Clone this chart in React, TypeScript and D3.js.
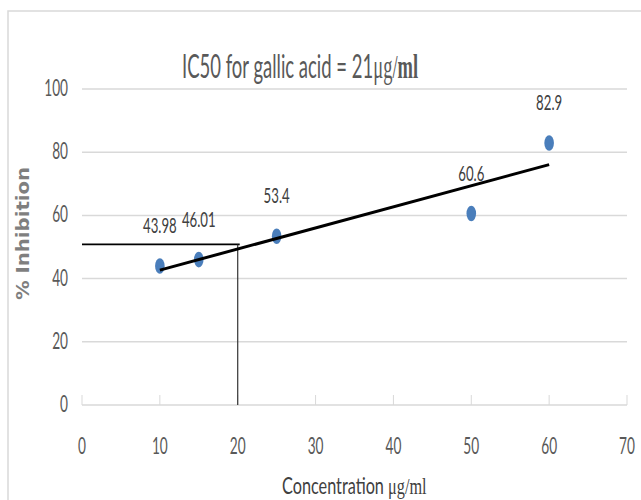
import React, { useLayoutEffect, useRef, useState } from "react";
import * as d3 from "d3";

const concentrations = [10, 15, 25, 50, 60];
const inhibition = [43.98, 46.01, 53.4, 60.6, 82.9];
const pointLabels = ["43.98", "46.01", "53.4", "60.6", "82.9"];
const xTicks = [0, 10, 20, 30, 40, 50, 60, 70];
const yTicks = [0, 20, 40, 60, 80, 100];
const ic50X = 20;
const ic50Y = 50.8;

const W = 641;
const H = 500;
const SANS = "Lato, 'Liberation Sans', sans-serif";
const SERIF = "'Liberation Serif', 'DejaVu Serif', serif";
const SX = 0.57;

function regression(xs: number[], ys: number[]) {
  const mx = d3.mean(xs) as number;
  const my = d3.mean(ys) as number;
  let sxy = 0;
  let sxx = 0;
  xs.forEach((x, i) => {
    sxy += (x - mx) * (ys[i] - my);
    sxx += (x - mx) * (x - mx);
  });
  const slope = sxy / sxx;
  return { slope, intercept: my - slope * mx };
}

function FitText(props: { x: number; y: number; width: number; rotate?: boolean; children: React.ReactNode; [k: string]: any }) {
  const { x, y, width, rotate, children, ...rest } = props;
  const ref = useRef<SVGTextElement>(null);
  const [s, setS] = useState(0.57);
  useLayoutEffect(() => {
    if (ref.current) {
      const w = ref.current.getBBox().width;
      if (w > 0) setS(width / w);
    }
  }, [width]);
  const tr = rotate
    ? `translate(${x},${y}) rotate(-90) scale(${s},1)`
    : `translate(${x},${y}) scale(${s},1)`;
  return (
    <g transform={tr}>
      <text ref={ref} x={0} y={0} {...rest}>{children}</text>
    </g>
  );
}

export default function App() {
  const x = d3.scaleLinear().domain([0, 70]).range([82, 627]);
  const y = d3.scaleLinear().domain([0, 100]).range([405, 89]);
  const { slope, intercept } = regression(concentrations, inhibition);
  const xMin = d3.min(concentrations) as number;
  const xMax = d3.max(concentrations) as number;
  const trend = d3.line<number>()
    .x((d) => x(d))
    .y((d) => y(intercept + slope * d))([xMin, xMax]);

  return (
    <svg width={W} height={H} style={{ position: "absolute", left: 0, top: 0, background: "#fff" }}>
      <rect x={8} y={11} width={W} height={H} fill="#fff" stroke="#d9d9d9" strokeWidth={1.5} />
      {yTicks.map((t) => (
        <line key={"g" + t} x1={x(0)} x2={x(70)} y1={y(t)} y2={y(t)} stroke="#d9d9d9" strokeWidth={1.5} />
      ))}
      {xTicks.map((t) => (
        <line key={"xt" + t} x1={x(t)} x2={x(t)} y1={y(0)} y2={y(0) - 10} stroke="#d9d9d9" strokeWidth={1} />
      ))}
      {yTicks.map((t) => (
        <g key={"yl" + t} transform={`translate(68,${y(t) + 7}) scale(${SX},1)`}>
          <text textAnchor="end" fontFamily={SANS} fontSize={24} fill="#595959">{t}</text>
        </g>
      ))}
      {xTicks.map((t) => (
        <g key={"xl" + t} transform={`translate(${x(t)},454) scale(${SX},1)`}>
          <text textAnchor="middle" fontFamily={SANS} fontSize={24} fill="#595959">{t}</text>
        </g>
      ))}
      <line x1={x(0)} x2={x(ic50X) + 2} y1={y(ic50Y)} y2={y(ic50Y)} stroke="#000" strokeWidth={1.8} />
      <line x1={x(ic50X)} x2={x(ic50X)} y1={y(ic50Y)} y2={y(0)} stroke="#333" strokeWidth={1.2} />
      {concentrations.map((c, i) => (
        <ellipse key={"p" + i} cx={x(c)} cy={y(inhibition[i])} rx={4.8} ry={7.8} fill="#4a7ebb" />
      ))}
      <path d={trend || ""} fill="none" stroke="#000" strokeWidth={3} />
      {concentrations.map((c, i) => (
        <g key={"dl" + i} transform={`translate(${x(c)},${y(inhibition[i]) - 33}) scale(0.6,1)`}>
          <text textAnchor="middle" fontFamily={SANS} fontSize={22} fill="#404040">{pointLabels[i]}</text>
        </g>
      ))}
      <FitText x={182} y={78} width={236} fontFamily={SANS} fontSize={33} fill="#595959">
        IC50 for gallic acid = 21<tspan fontFamily={SERIF}>μg/</tspan><tspan fontFamily={SERIF} fontWeight="bold">ml</tspan>
      </FitText>
      <FitText x={29} y={300} width={133} rotate fontFamily="'DejaVu Sans', sans-serif" fontWeight="bold" fontSize={18} fill="#7f7f7f">
        % Inhibition
      </FitText>
      <FitText x={282} y={494} width={145} fontFamily={SANS} fontSize={24} fill="#404040">
        Concentration <tspan fontFamily={SERIF}>μg/ml</tspan>
      </FitText>
    </svg>
  );
}
